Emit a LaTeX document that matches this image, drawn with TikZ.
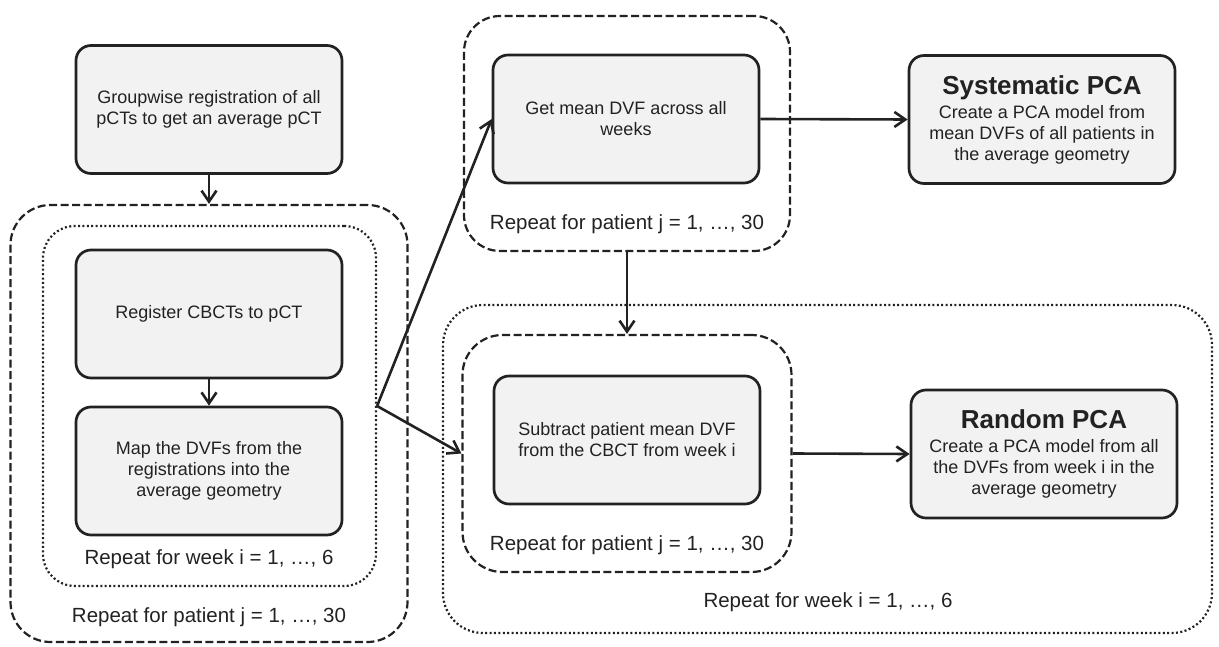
\documentclass[tikz,border=0pt]{standalone}
\usepackage{fontspec}
\setmainfont{Liberation Sans}
\usetikzlibrary{arrows.meta,positioning}
\definecolor{boxfill}{HTML}{F2F2F2}
\definecolor{ink}{HTML}{222222}

\begin{document}
\begin{tikzpicture}[x=1pt, y=-1pt, >={Straight Barb[length=11pt,width=15pt]}]
        \tikzstyle{every node}=[text=ink]
        \tikzstyle{stepbox}=[draw=ink, line width=2.7pt, fill=boxfill, rounded corners=15pt,
            minimum width=266pt, minimum height=128pt, align=center, inner sep=0pt,
            font=\fontsize{18}{21}\selectfont]
        \tikzstyle{loopdash}=[draw=ink, line width=2.2pt, dash pattern=on 8pt off 3.5pt,
            rounded corners=40pt, inner sep=0pt]
        \tikzstyle{loopdot}=[draw=ink, line width=2.2pt, dash pattern=on 2pt off 2.4pt,
            rounded corners=32pt, inner sep=0pt]
        \tikzstyle{reptext}=[anchor=base, font=\fontsize{20.5}{24}\selectfont]
        \tikzstyle{flow}=[->, draw=ink, line width=2.6pt]
        \newcommand{\pcatitle}{\fontsize{26}{28}\selectfont\bfseries}

        \useasboundingbox (0,0) rectangle (1219,647);

        % loops
        \node (dshL) [loopdash, minimum width=397pt, minimum height=437pt] at (209,423.5) {};
        \node (dotL) [loopdot, minimum width=333pt, minimum height=360pt] at (209.5,406) {};
        \node (dshT) [loopdash, rounded corners=36pt, minimum width=326pt, minimum height=235pt] at (627,133.5) {};
        \node (dotB) [loopdot, rounded corners=40pt, minimum width=769pt, minimum height=328pt] at (827.5,469) {};
        \node (dshB) [loopdash, minimum width=329pt, minimum height=237pt] at (627,453.5) {};

        \node (wkL)  [reptext] at (209,564)   {Repeat for week i = 1, …, 6};
        \node (ptL)  [reptext] at (209,622)   {Repeat for patient j = 1, …, 30};
        \node (ptT)  [reptext] at (627,230)   {Repeat for patient j = 1, …, 30};
        \node (ptB)  [reptext] at (627,550)   {Repeat for patient j = 1, …, 30};
        \node (wkB)  [reptext] at (828,607)   {Repeat for week i = 1, …, 6};

        % steps
        \node (grp)  [stepbox] at (209,109.5) {Groupwise registration of all\\pCTs to get an average pCT};
        \node (reg)  [stepbox] at (209,314)   {Register CBCTs to pCT};
        \node (map)  [stepbox] at (209,471)   {Map the DVFs from the\\registrations into the\\average geometry};
        \node (getm) [stepbox] at (626,119)   {Get mean DVF across all\\weeks};
        \node (sub)  [stepbox] at (627,440)   {Subtract patient mean DVF\\from the CBCT from week i};
        \node (sys)  [stepbox] at (1042,119.5) {{\pcatitle Systematic PCA}\\[3pt]Create a PCA model from\\mean DVFs of all patients in\\the average geometry};
        \node (rnd)  [stepbox] at (1044,454)  {{\pcatitle Random PCA}\\[3pt]Create a PCA model from all\\the DVFs from week i in the\\average geometry};

        \draw[flow] (grp.south) -- (dshL.north);
        \draw[flow] (reg.south) -- (map.north);
        \draw[flow] (dotL.east) -- (getm.west);
        \draw[flow] (dotL.east) -- (dshB.west);
        \draw[flow] (getm.east) -- (sys.west);
        \draw[flow] (dshT.south) -- (dshB.north);
        \draw[flow] (dshB.east) -- (rnd.west);

    \end{tikzpicture}
\end{document}
